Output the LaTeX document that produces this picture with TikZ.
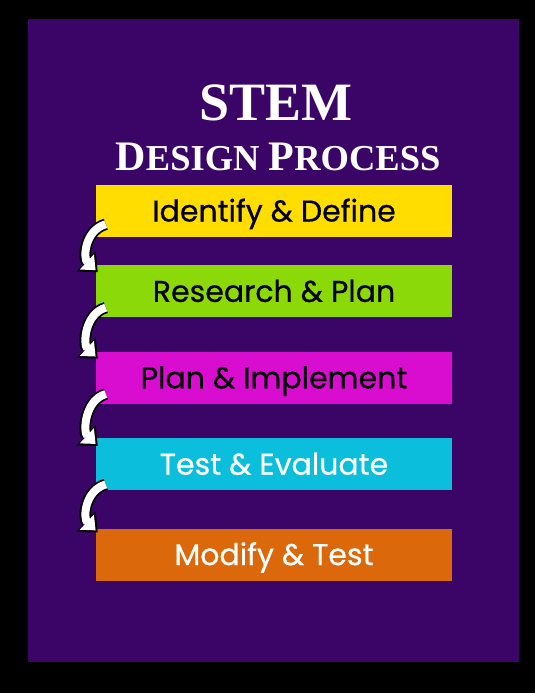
\documentclass[tikz,border=0pt]{standalone}
\usepackage{fontspec}
\setmainfont{Liberation Serif}
\newfontfamily\boxfont{Poppins}[FakeBold=0.5]
\usetikzlibrary{positioning,arrows.meta}
\definecolor{bgpurple}{HTML}{3A0566}
\definecolor{stepyellow}{HTML}{FFDD00}
\definecolor{stepgreen}{HTML}{8CD90A}
\definecolor{stepmagenta}{HTML}{D90DD0}
\definecolor{stepcyan}{HTML}{0BBEDC}
\definecolor{steporange}{HTML}{DB680B}

\begin{document}
\begin{tikzpicture}[x=1pt,y=-1pt,
    stepbox/.style={rectangle, minimum width=356pt, minimum height=52pt, inner sep=0pt,
        text height=21pt, text depth=0pt, font=\boxfont\fontsize{30}{30}\selectfont},
    turnarrow/.style={white, line width=8pt, shorten >=3pt, -{Triangle[width=20pt,length=12pt]},
        preaction={draw=black, line width=11.5pt, shorten >=0pt, -{Triangle[width=27pt,length=16pt]}}},
    titletext/.style={white, font=\bfseries, anchor=base}]
    \useasboundingbox (0,0) rectangle (535,693);
    \fill[black] (0,0) rectangle (535,693);
    \fill[bgpurple] (28,19) rectangle (519,662);
    % title
    \node[titletext] (stem) at (276,120) {\fontsize{54}{54}\selectfont STEM};
    \node[titletext] (design) at (278,170) {\fontsize{42}{42}\selectfont D\fontsize{36.5}{36.5}\selectfont ESIGN
        \fontsize{42}{42}\selectfont P\fontsize{36.5}{36.5}\selectfont ROCESS};
    % steps
    \node[stepbox, fill=stepyellow, text=black] (identify) at (274,211) {Identify \& Define};
    \node[stepbox, fill=stepgreen, text=black, below=28pt of identify] (research) {Research \& Plan};
    \node[stepbox, fill=stepmagenta, text=black, below=34pt of research] (plan) {Plan \& Implement};
    \node[stepbox, fill=stepcyan, text=white, below=34pt of plan] (test) {Test \& Evaluate};
    \node[stepbox, fill=steporange, text=white, below=38pt of test] (modify) {Modify \& Test};
    % arrows on the left
    \draw[turnarrow] ([shift={(10,-13)}]identify.south west) .. controls +(-21,6) and +(-15,-14) .. ([shift={(2,7)}]research.north west);
    \draw[turnarrow] ([shift={(10,-10)}]research.south west) .. controls +(-21,6) and +(-15,-14) .. ([shift={(2,7)}]plan.north west);
    \draw[turnarrow] ([shift={(10,-10)}]plan.south west) .. controls +(-21,6) and +(-15,-14) .. ([shift={(2,8)}]test.north west);
    \draw[turnarrow] ([shift={(10,-6)}]test.south west) .. controls +(-21,6) and +(-15,-14) .. ([shift={(2,4)}]modify.north west);
\end{tikzpicture}
\end{document}
